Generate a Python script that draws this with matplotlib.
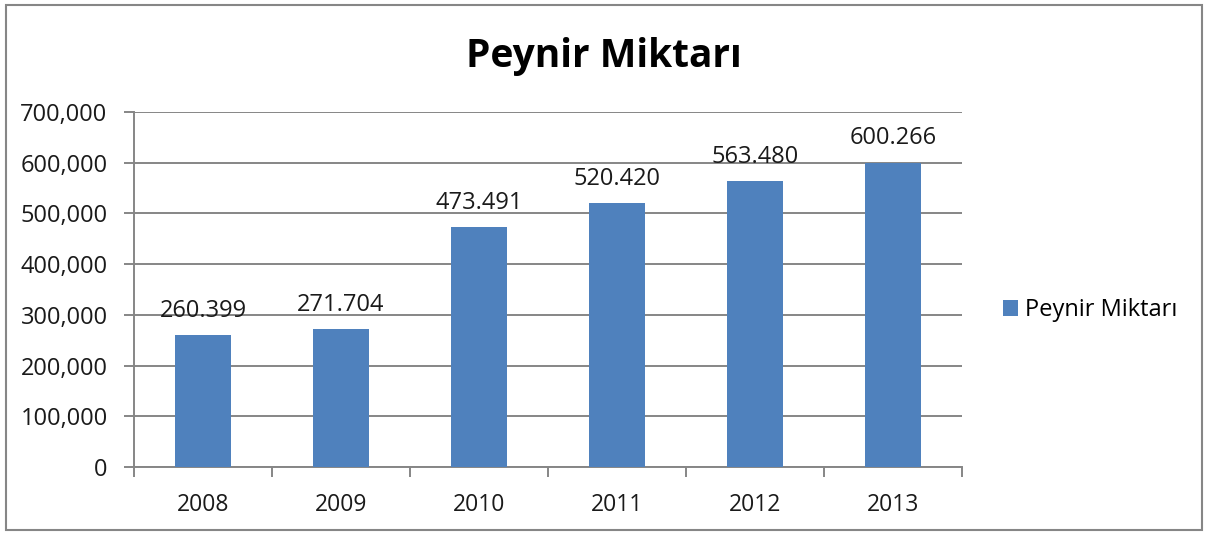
import matplotlib.pyplot as plt
from matplotlib.ticker import FuncFormatter

years = ["2008", "2009", "2010", "2011", "2012", "2013"]
amounts = [260399, 271704, 473491, 520420, 563480, 600266]
value_labels = ["260.399", "271.704", "473.491", "520.420", "563.480", "600.266"]
series_name = "Peynir Miktarı"

plt.rcParams['font.family'] = ['Open Sans', 'DejaVu Sans']

fig = plt.figure(figsize=(12.07, 5.35), dpi=100)
ax = fig.add_axes([134 / 1207, 1 - 467 / 535, (962 - 134) / 1207, (467 - 112) / 535])

grey = "#868686"
bars = ax.bar(years, amounts, width=0.4, color="#4F81BD", label=series_name, zorder=3)
for b, txt in zip(bars, value_labels):
    ax.text(b.get_x() + b.get_width() / 2, b.get_height() + 36000, txt,
            ha="center", va="baseline", fontsize=17, color="#1a1a1a", zorder=4)

ax.set_ylim(0, 700000)
ax.set_xlim(-0.5, len(years) - 0.5)
ax.set_yticks(range(0, 700001, 100000))
ax.yaxis.set_major_formatter(FuncFormatter(lambda v, p: "0" if v == 0 else f"{int(v):,}"))
ax.grid(axis="y", color=grey, linewidth=1.4, zorder=0)

# category boundary ticks on x axis
ax.set_xticks([i - 0.5 for i in range(len(years) + 1)], minor=True)
ax.tick_params(axis="x", which="minor", length=7, color=grey, width=1.4)
ax.tick_params(axis="x", which="major", length=0, pad=19, labelsize=16.5, labelcolor="#1a1a1a")
ax.tick_params(axis="y", length=7, color=grey, width=1.4, labelsize=17, pad=12, labelcolor="#1a1a1a")

for s in ["top", "right"]:
    ax.spines[s].set_visible(False)
for s in ["left", "bottom"]:
    ax.spines[s].set_color(grey)
    ax.spines[s].set_linewidth(1.4)

fig.text(0.5, 1 - 67 / 535, series_name, ha="center", va="baseline",
         fontsize=28, fontweight="bold")

fig.legend(handles=[bars], labels=[series_name], loc="center left",
           bbox_to_anchor=(1003 / 1207, 1 - 310 / 535), frameon=False,
           borderpad=0, borderaxespad=0,
           fontsize=17, handlelength=0.65, handleheight=0.65, handletextpad=0.3)

border = plt.Rectangle((6 / 1207, 5 / 535), 1196 / 1207, 525 / 535, transform=fig.transFigure,
                       fill=False, edgecolor=grey, linewidth=1.5)
fig.add_artist(border)

fig.savefig("out.png", dpi=100)
